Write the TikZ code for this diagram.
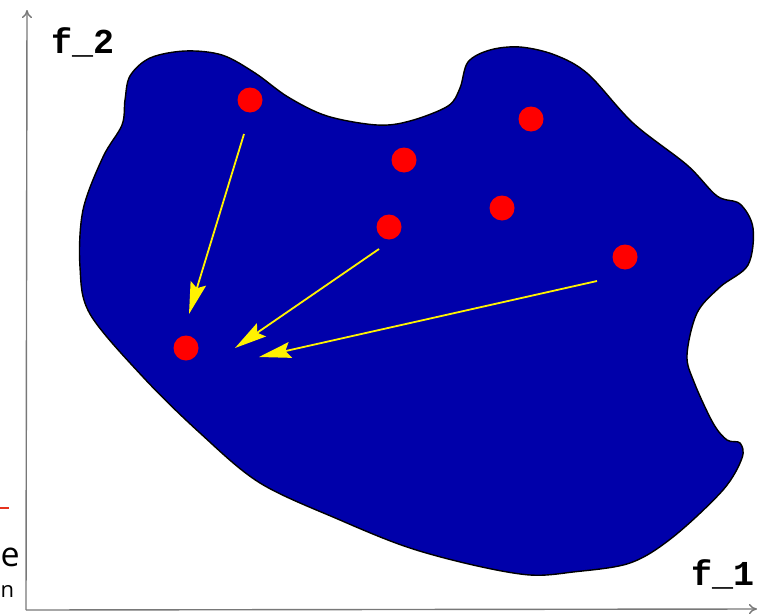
\documentclass[tikz,border=0pt]{standalone}
\usepackage{fontspec}
\setmainfont{Open Sans}
\newfontfamily\axisfont{Liberation Mono}
\usetikzlibrary{arrows.meta}
\definecolor{regionblue}{RGB}{0,0,170}
\definecolor{axisgray}{RGB}{120,120,120}
\definecolor{pagered}{RGB}{230,50,30}
\tikzset{
  sol/.style={circle, fill=red, draw=none, minimum size=25pt, inner sep=0pt},
  move/.style={draw=yellow, line width=1.8pt,
    -{Stealth[length=32pt, width=16pt, inset=5pt, fill=yellow]}},
  axis/.style={draw=axisgray, line width=1.4pt, -{To[length=8pt, width=10pt]}},
  axislabel/.style={font=\axisfont\bfseries\fontsize{35}{35}\selectfont, inner sep=0pt, anchor=base west}
}
\begin{document}
\begin{tikzpicture}[x=1pt, y=-1pt]
\useasboundingbox (0,0) rectangle (765,613);
\clip (0,0) rectangle (765,613);

% fragments of the surrounding page at the left edge
\draw[pagered, line width=1.5pt] (-5,508) -- (9,508);
\node[anchor=base west, inner sep=0pt, font=\fontsize{34}{34}\selectfont] (pe) at (0.5,566) {e};
\node[anchor=base west, inner sep=0pt, font=\fontsize{22}{22}\selectfont] (pn) at (0.5,597) {n};

% objective axes
\coordinate (o) at (26,610);
\coordinate (ytop) at (27,10);
\coordinate (xend) at (757,609);
\draw[axis] (o) -- (ytop);
\draw[axis] (o) -- (xend);
\node[axislabel] (l2) at (51,53) {f\_2};
\node[axislabel] (l1) at (691,585) {f\_1};

% feasible region in objective space
\filldraw[fill=regionblue, draw=black, line width=1.4pt]
  plot[smooth cycle, tension=0.55] coordinates {
    (125,100) (130,76) (150,58) (185,51) (222,55) (255,73) (288,97)
    (327,116) (377,125) (410,121) (448,106) (460,88) (468,62) (490,50)
    (520,47) (555,55) (588,74) (633,123) (687,165) (717,196) (740,204)
    (753,228) (748,265) (720,287) (697,313) (687,355) (694,382) (713,423)
    (727,440) (740,443) (742,458) (723,490) (673,537) (630,563) (573,572)
    (530,575) (473,565) (407,547) (340,520) (260,483) (200,433) (143,377)
    (90,314) (80,267) (83,210) (103,157) (122,125)
  };

% solutions
\node[sol] (s1) at (250,100) {};
\node[sol] (s2) at (531,119) {};
\node[sol] (s3) at (404,160) {};
\node[sol] (s4) at (502,208) {};
\node[sol] (s5) at (389,227) {};
\node[sol] (s6) at (625,257) {};
\node[sol] (s7) at (186,348) {};

% improvement moves
\coordinate (a1) at (244,134);
\coordinate (b1) at (189,314);
\coordinate (a2) at (379,249);
\coordinate (b2) at (235,348);
\coordinate (a3) at (597,281);
\coordinate (b3) at (259,357);
\draw[move] (a1) -- (b1);
\draw[move] (a2) -- (b2);
\draw[move] (a3) -- (b3);
\end{tikzpicture}
\end{document}
